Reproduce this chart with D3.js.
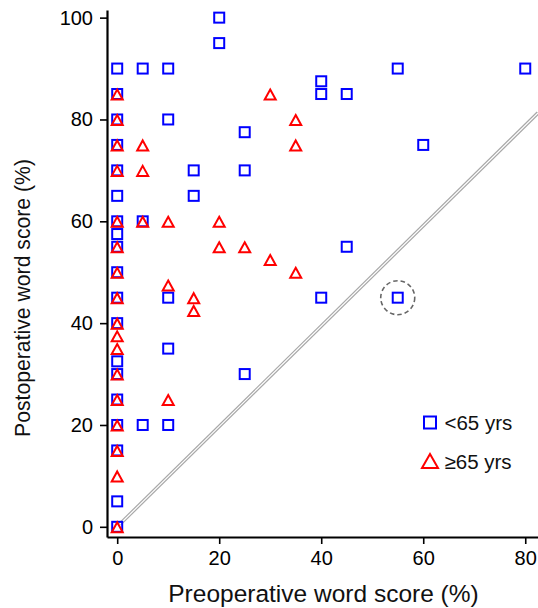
<!DOCTYPE html>
<html>
<head>
<meta charset="utf-8">
<script src="https://cdn.jsdelivr.net/npm/d3@7"></script>
<style>
  html, body { margin: 0; padding: 0; background: #fff; }
  svg { display: block; font-family: "Liberation Sans", Arial, sans-serif; }
</style>
</head>
<body>
<svg id="chart" width="538" height="608"></svg>
<script>
// ---- Data ----
// Patients < 65 yrs: [preoperative %, postoperative %]
const youngX = [0,0,0,0,0,0,0,0,0,0,0,0,0,0,0,0,0,0,0,
                5,5,5,
                10,10,10,10,10,
                15,15,
                20,20,
                25,25,25,
                40,40,40,
                45,45,
                55,55,
                60,
                80];
const youngY = [90,85,80,75,70,65,60,57.5,55,50,45,40,32.5,30,25,20,15,5,0,
                90,60,20,
                90,80,45,35,20,
                70,65,
                100,95,
                77.5,70,30,
                87.5,85,45,
                85,55,
                90,45,
                75,
                90];
// Patients >= 65 yrs
const oldX = [0,0,0,0,0,0,0,0,0,0,0,0,0,0,0,0,0,
              5,5,5,
              10,10,10,
              15,15,
              20,20,
              25,
              30,30,
              35,35,35];
const oldY = [85,80,75,70,60,55,50,45,40,37.5,35,30,25,20,15,10,0,
              75,70,60,
              60,47.5,25,
              45,42.5,
              60,55,
              55,
              85,52.5,
              80,75,50];
// Highlighted (circled) case
const highlightX = [55];
const highlightY = [45];
// Reference line (no-change line)
const refLineX = [0.5, 82.5];
const refLineY = [0.5, 81.3];

const xTicks = [0, 20, 40, 60, 80];
const yTicks = [0, 20, 40, 60, 80, 100];
const legendLabels = ["<65 yrs", "\u226565 yrs"];
const xTitle = "Preoperative word score (%)";
const yTitle = "Postoperative word score (%)";

(function () {
// ---- Layout ----
const svg = d3.select("#chart");
const pLeft = 107, pRight = 538, pTop = 10, pBottom = 537;
const x = d3.scaleLinear().domain([-2, 82.5]).range([pLeft, pRight]);
const y = d3.scaleLinear().domain([-2, 101.5]).range([pBottom, pTop]);

const blue = "#0000ff", red = "#ff0000";

// reference line: double gray line
const line = d3.line().x(d => x(d[0])).y(d => y(d[1]));
const refData = d3.zip(refLineX, refLineY);
svg.append("path").datum(refData).attr("d", line)
  .attr("fill", "none").attr("stroke", "#a8a8a8").attr("stroke-width", 3.6);
svg.append("path").datum(refData).attr("d", line)
  .attr("fill", "none").attr("stroke", "#ffffff").attr("stroke-width", 1.2);

// dashed circle
svg.selectAll("circle.hl").data(d3.zip(highlightX, highlightY)).join("circle")
  .attr("class", "hl")
  .attr("cx", d => x(d[0])).attr("cy", d => y(d[1])).attr("r", 17)
  .attr("fill", "none").attr("stroke", "#666").attr("stroke-width", 1.6)
  .attr("stroke-dasharray", "4.5,3");

// squares
const sq = 10;
svg.selectAll("rect.young").data(d3.zip(youngX, youngY)).join("rect")
  .attr("class", "young")
  .attr("x", d => x(d[0]) - sq / 2).attr("y", d => y(d[1]) - sq / 2)
  .attr("width", sq).attr("height", sq)
  .attr("fill", "none").attr("stroke", blue).attr("stroke-width", 2);

// triangles
function triPath(cx, cy, w, h) {
  return `M${cx},${cy - h / 2}L${cx + w / 2},${cy + h / 2}L${cx - w / 2},${cy + h / 2}Z`;
}
svg.selectAll("path.old").data(d3.zip(oldX, oldY)).join("path")
  .attr("class", "old")
  .attr("d", d => triPath(x(d[0]), y(d[1]) + 0.5, 11, 10))
  .attr("fill", "none").attr("stroke", red).attr("stroke-width", 2)
  .attr("stroke-linejoin", "miter");

// axes
const xAxis = d3.axisBottom(x).tickValues(xTicks).tickSize(7).tickPadding(7).tickSizeOuter(0);
const yAxis = d3.axisLeft(y).tickValues(yTicks).tickSize(7).tickPadding(7).tickSizeOuter(0);

const gx = svg.append("g").attr("transform", `translate(0,${pBottom})`).call(xAxis);
const gy = svg.append("g").attr("transform", `translate(${pLeft},0)`).call(yAxis);
[gx, gy].forEach(g => {
  g.select(".domain").attr("stroke", "#000").attr("stroke-width", 2.2);
  g.selectAll(".tick line").attr("stroke", "#000").attr("stroke-width", 1.6);
  g.selectAll(".tick text").attr("fill", "#000").attr("font-size", 20)
    .attr("font-family", "Liberation Sans, Arial, sans-serif");
});

// titles
svg.append("text").attr("x", 323.5).attr("y", 602)
  .attr("text-anchor", "middle").attr("font-size", 24.5).attr("fill", "#111")
  .text(xTitle);
svg.append("text").attr("transform", `translate(30,298) rotate(-90)`)
  .attr("text-anchor", "middle").attr("font-size", 21.2).attr("fill", "#111")
  .text(yTitle);

// legend
const lg = svg.append("g");
const lx = 430, ly = [422.5, 461];
lg.append("rect").attr("x", lx - 6).attr("y", ly[0] - 6).attr("width", 12).attr("height", 12)
  .attr("fill", "none").attr("stroke", blue).attr("stroke-width", 2);
lg.append("path").attr("d", triPath(lx, ly[1], 16, 14))
  .attr("fill", "none").attr("stroke", red).attr("stroke-width", 2);
lg.selectAll("text").data(legendLabels).join("text")
  .attr("x", 444.5).attr("y", (d, i) => ly[i] + 7.5)
  .attr("font-size", 20.5).attr("fill", "#111").text(d => d);
})();
</script>
</body>
</html>
